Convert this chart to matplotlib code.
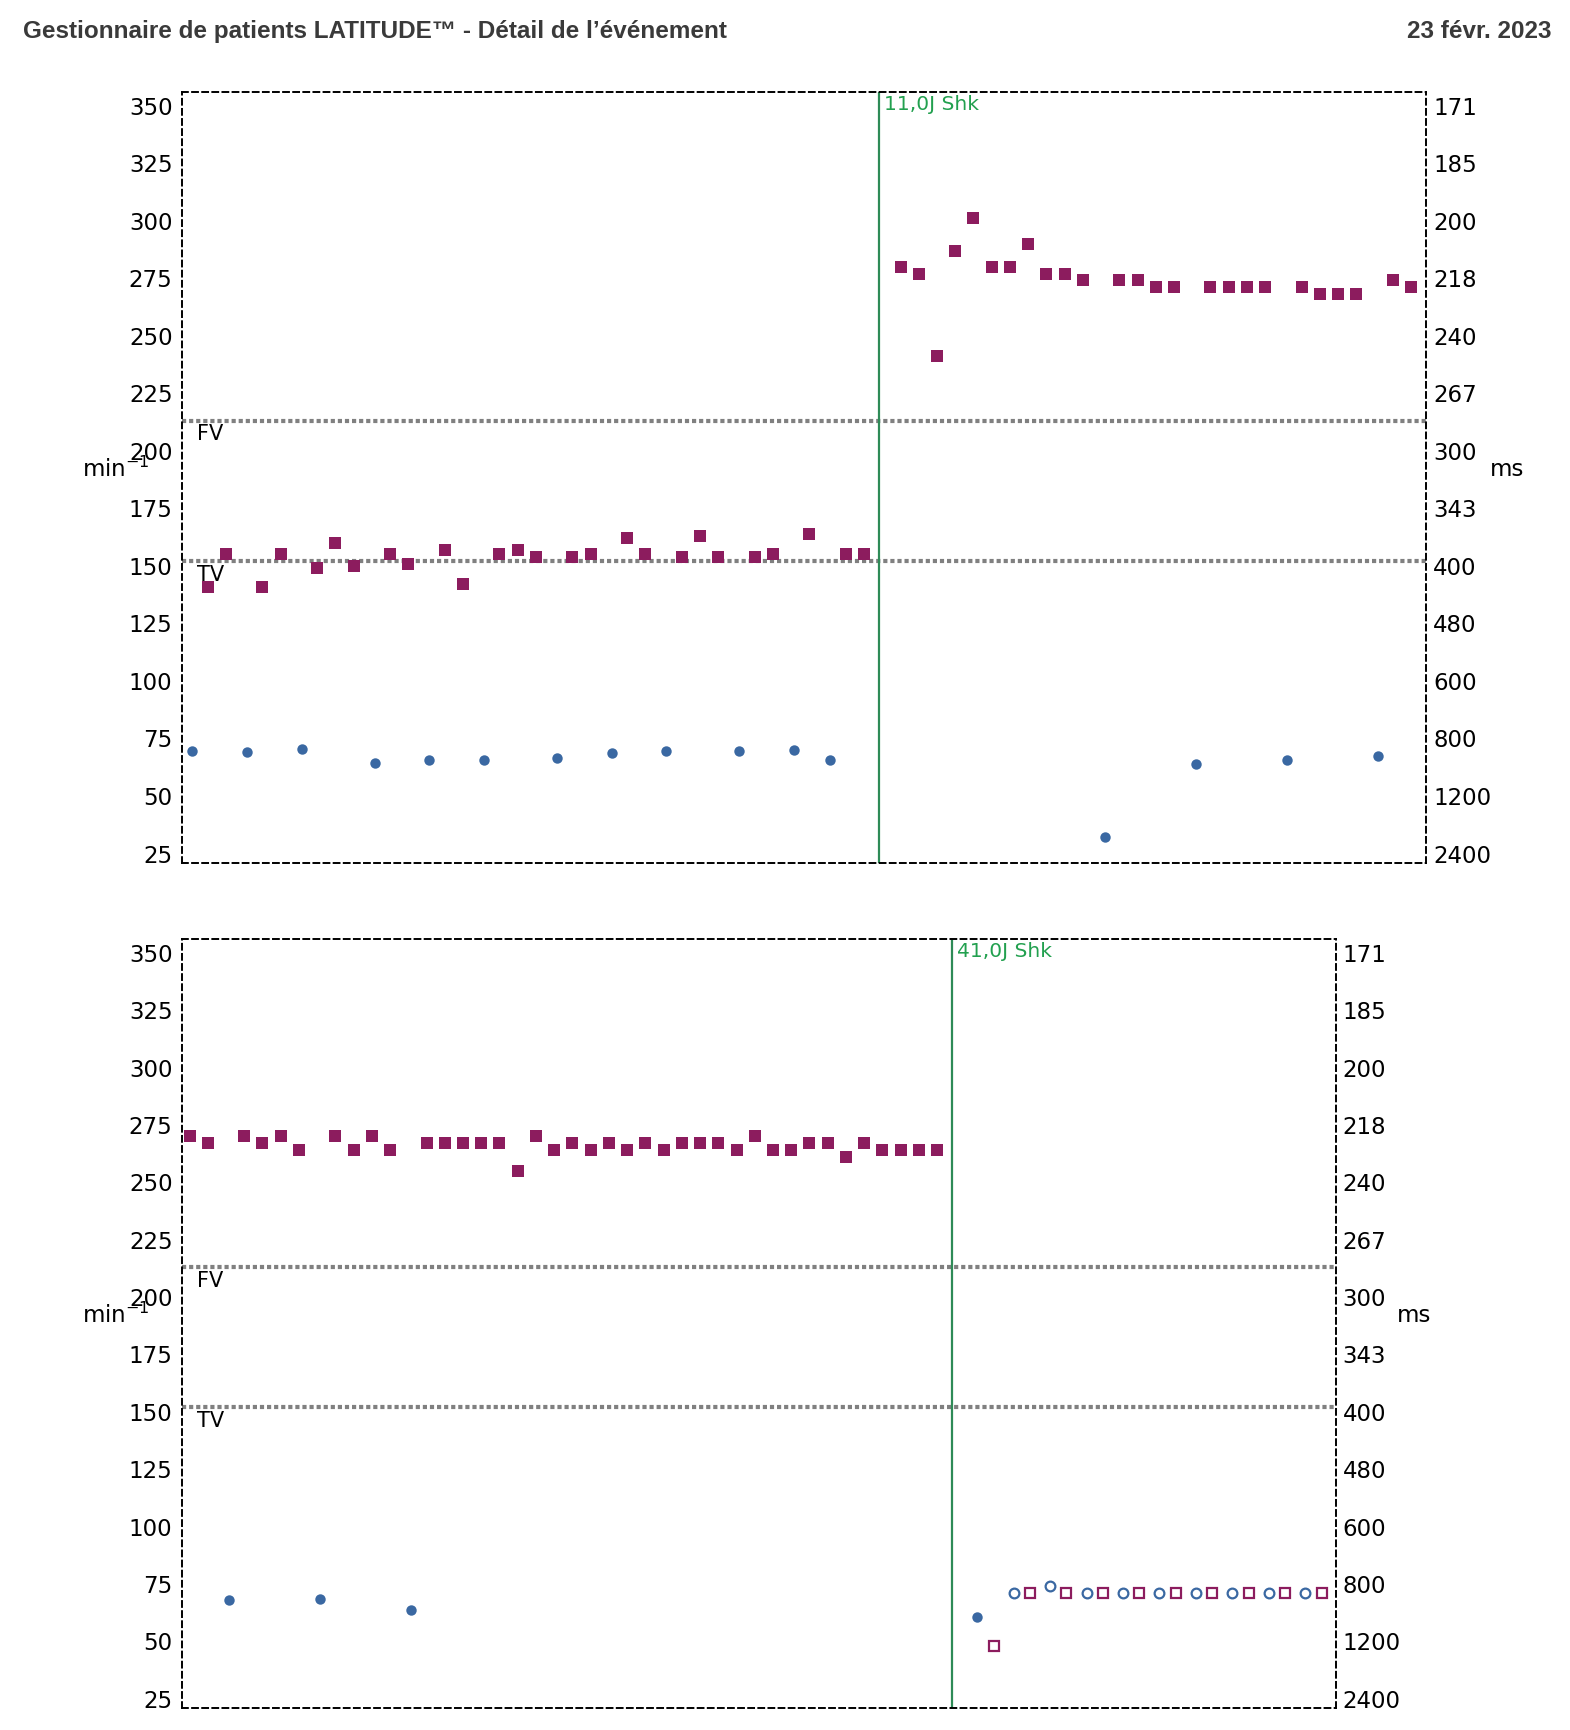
import numpy as np
import matplotlib.pyplot as plt

# y ticks (min-1) and matching interval labels (ms)
bpm_ticks = [25, 50, 75, 100, 125, 150, 175, 200, 225, 250, 275, 300, 325, 350]
ms_labels = ['2400', '1200', '800', '600', '480', '400', '343', '300', '267', '240',
             '218', '200', '185', '171']

fv_zone = 213
tv_zone = 152

# top episode
top_shock_x = 36.84
top_shock_label = '11,0J Shk'
top_v_x = [0, 1, 3, 4, 6, 7, 8, 10, 11, 13, 14, 16, 17, 18, 20, 21, 23, 24, 26, 27, 28,
           30, 31, 33, 35, 36,
           38, 39, 40, 41, 42, 43, 44, 45, 46, 47, 48, 50, 51, 52, 53, 55, 56, 57, 58,
           60, 61, 62, 63, 65, 66]
top_v_bpm = [141, 155, 141, 155, 149, 160, 150, 155, 151, 157, 142, 155, 157, 154, 154,
             155, 162, 155, 154, 163, 154, 154, 155, 164, 155, 155,
             280, 277, 241, 287, 301, 280, 280, 290, 277, 277, 274, 274, 274, 271, 271,
             271, 271, 271, 271, 271, 268, 268, 268, 274, 271]
top_a_x = [-0.85, 2.15, 5.15, 9.15, 12.15, 15.15, 19.15, 22.15, 25.15, 29.15, 32.15,
           34.15, 49.2, 54.2, 59.2, 64.2]
top_a_bpm = [69.5, 69, 70.5, 64.5, 65.5, 65.5, 66.5, 68.5, 69.5, 69.5, 70, 65.5,
             32, 64, 65.5, 67.5]

# bottom episode
bot_shock_x = 41.84
bot_shock_label = '41,0J Shk'
bot_v_x = [0, 1, 3, 4, 5, 6, 8, 9, 10, 11] + list(range(13, 42))
bot_v_bpm = [270, 267, 270, 267, 270, 264, 270, 264, 270, 264,
             267, 267, 267, 267, 267, 255,
             270, 264, 267, 264, 267, 264, 267, 264, 267, 267, 267, 264, 270, 264, 264,
             267, 267, 261, 267, 264, 264, 264, 264]
bot_a_x = [2.15, 7.15, 12.15, 43.2]
bot_a_bpm = [68, 68.5, 63.5, 60.5]
# paced (open markers)
bot_ap_x = [45.2, 47.2, 49.2, 51.2, 53.2, 55.2, 57.2, 59.2, 61.2]
bot_ap_bpm = [71, 74, 71, 71, 71, 71, 71, 71, 71]
bot_vp_x = [44.1, 46.1, 48.1, 50.1, 52.1, 54.1, 56.1, 58.1, 60.1, 62.1]
bot_vp_bpm = [48, 71, 71, 71, 71, 71, 71, 71, 71, 71]

v_color = '#8c1c5e'
a_color = '#3a68a2'
shock_color = '#2e8b57'
shock_text = '#22a04f'

fig = plt.figure(figsize=(15.7, 17.3), dpi=100)

fig.text(0.0145, 0.982, 'Gestionnaire de patients LATITUDE™ - Détail de l’événement',
         fontsize=17.5, fontweight='bold', color='#3a3a3a', family='Liberation Sans',
         va='center', ha='left')
fig.text(0.9885, 0.982, '23 févr. 2023', fontsize=17.5, fontweight='bold',
         color='#3a3a3a', family='Liberation Sans', va='center', ha='right')


def draw_panel(ax, xlim, shock_x, shock_label):
    ax.set_xlim(*xlim)
    ax.set_ylim(21, 356)
    ax.set_yticks(bpm_ticks)
    ax.set_yticklabels([str(t) for t in bpm_ticks])
    ax.set_xticks([])
    ax.tick_params(axis='y', length=0, labelsize=16.5, pad=7)
    for s in ax.spines.values():
        s.set_linestyle((0, (3, 2.2)))
        s.set_linewidth(1.4)
        s.set_color('black')

    ax.axhline(fv_zone, color='#808080', lw=3, ls=(0, (1, 0.7)), zorder=1)
    ax.axhline(tv_zone, color='#808080', lw=3, ls=(0, (1, 0.7)), zorder=1)
    ax.text(xlim[0] + 0.8, fv_zone - 1.5, 'FV', fontsize=15, va='top', ha='left')
    ax.text(xlim[0] + 0.8, tv_zone - 1.5, 'TV', fontsize=15, va='top', ha='left')

    ax.axvline(shock_x, color=shock_color, lw=1.6, zorder=2)
    ax.text(shock_x + 0.25, 354.5, shock_label, color=shock_text, fontsize=14.5,
            va='top', ha='left')

    ax2 = ax.twinx()
    ax2.set_ylim(ax.get_ylim())
    ax2.set_yticks(bpm_ticks)
    ax2.set_yticklabels(ms_labels)
    ax2.tick_params(axis='y', length=0, labelsize=16.5, pad=5)
    for s in ax2.spines.values():
        s.set_visible(False)
    return ax2


# top panel
ax1 = fig.add_axes([0.1161, 0.5013, 0.9085 - 0.1161, 0.947 - 0.5013])
draw_panel(ax1, (-1.4, 66.84), top_shock_x, top_shock_label)
ax1.plot(top_v_x, top_v_bpm, 's', color=v_color, ms=8, mew=0, zorder=3)
ax1.plot(top_a_x, top_a_bpm, 'o', color=a_color, ms=7.5, mew=0, zorder=3)
fig.text(0.052, 0.7285, 'min$^{-1}$', fontsize=16.5, va='center', ha='left')
fig.text(0.949, 0.7285, 'ms', fontsize=16.5, va='center', ha='left')

# bottom panel
ax3 = fig.add_axes([0.1161, 0.0128, 0.8508 - 0.1161, 0.4572 - 0.0128])
draw_panel(ax3, (-0.4, 62.87), bot_shock_x, bot_shock_label)
ax3.plot(bot_v_x, bot_v_bpm, 's', color=v_color, ms=8, mew=0, zorder=3)
ax3.plot(bot_a_x, bot_a_bpm, 'o', color=a_color, ms=7.5, mew=0, zorder=3)
ax3.plot(bot_ap_x, bot_ap_bpm, 'o', mfc='white', mec=a_color, ms=7, mew=1.6, zorder=3)
ax3.plot(bot_vp_x, bot_vp_bpm, 's', mfc='white', mec=v_color, ms=7, mew=1.6, zorder=3)
fig.text(0.052, 0.2395, 'min$^{-1}$', fontsize=16.5, va='center', ha='left')
fig.text(0.890, 0.2395, 'ms', fontsize=16.5, va='center', ha='left')

fig.savefig('out.png', dpi=100, facecolor='white')
